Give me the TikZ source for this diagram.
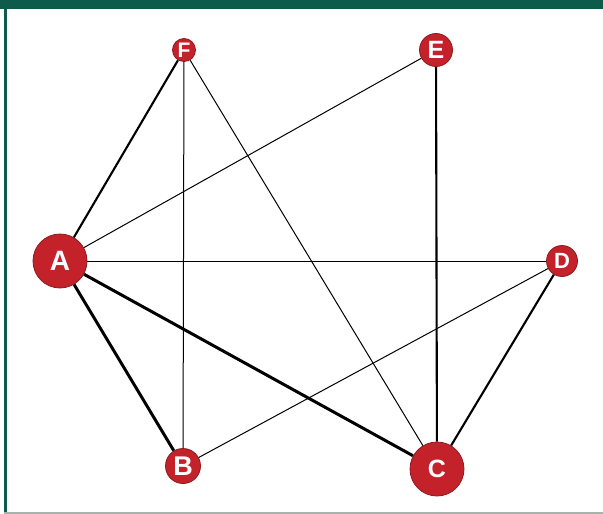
\documentclass[tikz,border=0pt]{standalone}
\usepackage{fontspec}
\setmainfont{Liberation Sans}
\definecolor{frame}{HTML}{0F5B4B}
\definecolor{nodered}{HTML}{C4222B}
\definecolor{nodeedge}{HTML}{8E1A1E}
\definecolor{footrule}{HTML}{A3B5AD}
\newcommand{\glyphsize}[1]{\fontsize{#1pt}{#1pt}\selectfont\bfseries}
\tikzset{
  vertex/.style={circle, fill=nodered, draw=nodeedge, line width=0.8pt,
    text=white, inner sep=0pt, minimum size=#1},
  thin edge/.style={line width=1pt, black},
  mid edge/.style={line width=2.1pt, black},
  bold edge/.style={line width=3pt, black},
}
\begin{document}
\begin{tikzpicture}[x=1pt, y=-1pt]
  % canvas and frame
  \useasboundingbox (0,0) rectangle (603,514);
  \fill[white] (0,0) rectangle (603,514);
  \fill[frame] (0,0) rectangle (603,9);
  \fill[frame] (4,0) rectangle (6.5,514);
  \fill[footrule] (4,511.5) rectangle (603,514);

  % vertices
  \node[vertex=54pt, font=\glyphsize{28}] (A) at (60,261) {A};
  \node[vertex=35pt, font=\glyphsize{27}] (B) at (183,466) {B};
  \node[vertex=54pt, font=\glyphsize{25}] (C) at (437,469) {C};
  \node[vertex=31pt, font=\glyphsize{22}] (D) at (562,261) {D};
  \node[vertex=33pt, font=\glyphsize{25}] (E) at (436,50) {E};
  \node[vertex=23pt, font=\glyphsize{21}] (F) at (184,50) {F};

  % connectors
  \draw[thin edge] (F) -- (B);
  \draw[thin edge] (F) -- (C);
  \draw[thin edge] (E) -- (A);
  \draw[thin edge] (A) -- (D);
  \draw[thin edge] (D) -- (B);
  \draw[mid edge] (F) -- (A);
  \draw[mid edge] (E) -- (C);
  \draw[mid edge] (D) -- (C);
  \draw[bold edge] (A) -- (B);
  \draw[bold edge] (A) -- (C);
\end{tikzpicture}
\end{document}
